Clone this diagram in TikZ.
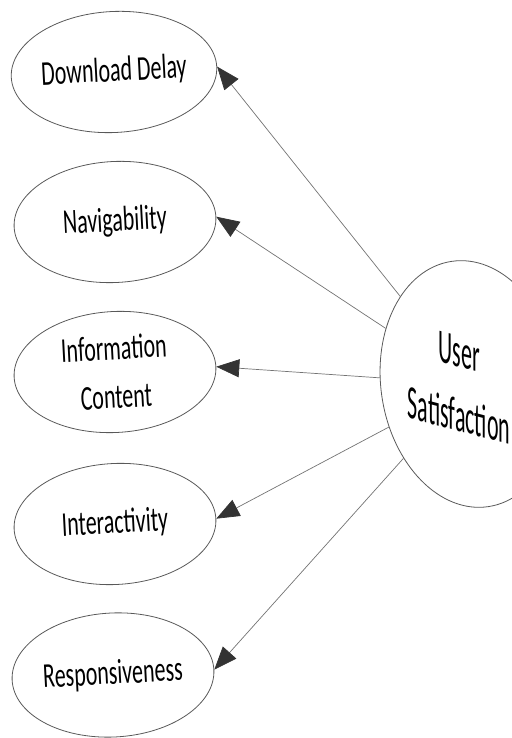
\documentclass[tikz,border=0pt]{standalone}
\usepackage{fontspec}
\setmainfont{Carlito}
\newfontfamily\lfont[FakeStretch=0.63]{Carlito}
\newfontfamily\ufont[FakeStretch=0.46]{Carlito}
\usetikzlibrary{shapes.geometric,arrows.meta}
\begin{document}
\begin{tikzpicture}[x=1bp,y=1bp,
  factor/.style={ellipse, draw=black!65, line width=0.8bp, minimum width=202bp,
    minimum height=121bp, inner sep=0pt, align=center, rotate=3,
    font=\lfont\fontsize{35}{49}\selectfont},
  link/.style={draw=black!55, line width=0.7bp,
    -{Triangle[length=23bp,width=18bp,color=black!80]}}]
\useasboundingbox (0,0) rectangle (512,738);
\node[factor] (e1) at (114,666) {Download Delay};
\node[factor] (e2) at (115,516) {Navigability};
\node[factor] (e3) at (115,366) {Information\\Content};
\node[factor] (e4) at (115,214) {Interactivity};
\node[factor, minimum height=124bp] (e5) at (113,63) {Responsiveness};
\node[ellipse, draw=black!65, line width=0.8bp, rotate=8.6, minimum width=178bp,
  minimum height=248bp, inner sep=0pt] (us) at (470,354) {};
\node[yslant=-0.26, align=center, font=\ufont\fontsize{48}{64}\selectfont] (ust) at (459,354) {User\\Satisfaction};
\draw[link] (us) -- (e1.east);
\draw[link] (us) -- (e2.east);
\draw[link] (us) -- (e3.east);
\draw[link] (us) -- (e4.east);
\draw[link] (us) -- (e5.east);
\end{tikzpicture}
\end{document}
